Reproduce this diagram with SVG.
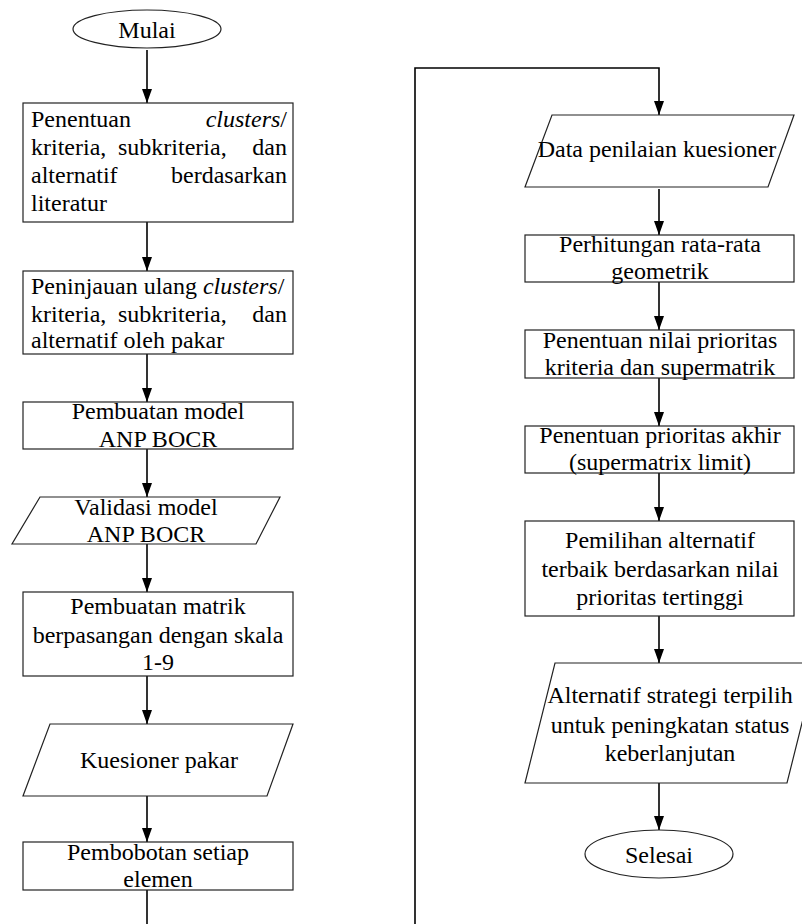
<svg xmlns="http://www.w3.org/2000/svg" width="802" height="924" viewBox="0 0 802 924">
<style>
.shape{fill:#fff;stroke:#222;stroke-width:1.2}
.c{text-anchor:middle}
.e{text-anchor:end}
.t{font-family:'Liberation Serif';font-size:24px;fill:#000}
.con{fill:none;stroke:#000;stroke-width:1.6}
</style>
<defs>
<marker id="ah" viewBox="0 0 10 14" markerWidth="10" markerHeight="14" refX="5" refY="14" orient="0" markerUnits="userSpaceOnUse">
<path d="M0,0 L10,0 L5,14 z" fill="#000"/>
</marker>
</defs>
<rect width="802" height="924" fill="#fff"/>
<g id="connectors">
<line class="con" x1="147" y1="50" x2="147" y2="103" marker-end="url(#ah)"/>
<line class="con" x1="147" y1="222" x2="147" y2="271" marker-end="url(#ah)"/>
<line class="con" x1="147" y1="354" x2="147" y2="402" marker-end="url(#ah)"/>
<line class="con" x1="147" y1="449" x2="147" y2="497" marker-end="url(#ah)"/>
<line class="con" x1="147" y1="544" x2="147" y2="592" marker-end="url(#ah)"/>
<line class="con" x1="147" y1="676" x2="147" y2="724" marker-end="url(#ah)"/>
<line class="con" x1="147" y1="796" x2="147" y2="842" marker-end="url(#ah)"/>
<line class="con" x1="147" y1="890" x2="147" y2="926"/>
<path class="con" d="M415,926 V68 H659 V115" marker-end="url(#ah)"/>
<line class="con" x1="659" y1="189" x2="659" y2="235" marker-end="url(#ah)"/>
<line class="con" x1="659" y1="282" x2="659" y2="330" marker-end="url(#ah)"/>
<line class="con" x1="659" y1="378" x2="659" y2="426" marker-end="url(#ah)"/>
<line class="con" x1="659" y1="473" x2="659" y2="521" marker-end="url(#ah)"/>
<line class="con" x1="659" y1="616" x2="659" y2="663" marker-end="url(#ah)"/>
<line class="con" x1="659" y1="783" x2="659" y2="830" marker-end="url(#ah)"/>
</g>
<g id="mulai">
<ellipse class="shape" cx="147" cy="29" rx="74" ry="19"/>
<text class="t c" font-family="Liberation Serif" font-size="24" x="147" y="38">Mulai</text>
</g>
<g id="penentuan-clusters">
<rect class="shape" x="23" y="103" width="270" height="119"/>
<text class="t" font-family="Liberation Serif" font-size="24" x="31" y="127">Penentuan</text>
<text class="t e" font-family="Liberation Serif" font-size="24" x="287" y="127"><tspan font-style="italic">clusters</tspan>/</text>
<text class="t" font-family="Liberation Serif" font-size="24" x="31" y="155">kriteria,</text>
<text class="t" font-family="Liberation Serif" font-size="24" x="118" y="155">subkriteria,</text>
<text class="t e" font-family="Liberation Serif" font-size="24" x="287" y="155">dan</text>
<text class="t" font-family="Liberation Serif" font-size="24" x="31" y="183">alternatif</text>
<text class="t e" font-family="Liberation Serif" font-size="24" x="287" y="183">berdasarkan</text>
<text class="t" font-family="Liberation Serif" font-size="24" x="31" y="211">literatur</text>
</g>
<g id="peninjauan">
<rect class="shape" x="23" y="271" width="270" height="83"/>
<text class="t" font-family="Liberation Serif" font-size="24" x="31" y="294">Peninjauan ulang <tspan font-style="italic">clusters</tspan>/</text>
<text class="t" font-family="Liberation Serif" font-size="24" x="31" y="322">kriteria,</text>
<text class="t" font-family="Liberation Serif" font-size="24" x="118" y="322">subkriteria,</text>
<text class="t e" font-family="Liberation Serif" font-size="24" x="287" y="322">dan</text>
<text class="t" font-family="Liberation Serif" font-size="24" x="31" y="348">alternatif oleh pakar</text>
</g>
<g id="pembuatan-model">
<rect class="shape" x="23" y="402" width="270" height="47"/>
<text class="t c" font-family="Liberation Serif" font-size="24" x="158" y="419">Pembuatan model</text>
<text class="t c" font-family="Liberation Serif" font-size="24" x="158" y="447">ANP BOCR</text>
</g>
<g id="validasi">
<polygon class="shape" points="40,497 280,497 256,544 12,544"/>
<text class="t c" font-family="Liberation Serif" font-size="24" x="146" y="515">Validasi model</text>
<text class="t c" font-family="Liberation Serif" font-size="24" x="146" y="542">ANP BOCR</text>
</g>
<g id="pembuatan-matrik">
<rect class="shape" x="23" y="592" width="270" height="84"/>
<text class="t c" font-family="Liberation Serif" font-size="24" x="158" y="614">Pembuatan matrik</text>
<text class="t c" font-family="Liberation Serif" font-size="24" x="158" y="643">berpasangan dengan skala</text>
<text class="t c" font-family="Liberation Serif" font-size="24" x="158" y="670">1-9</text>
</g>
<g id="kuesioner-pakar">
<polygon class="shape" points="50,724 293,724 267,796 23,796"/>
<text class="t c" font-family="Liberation Serif" font-size="24" x="159" y="768">Kuesioner pakar</text>
</g>
<g id="pembobotan">
<rect class="shape" x="23" y="842" width="270" height="48"/>
<text class="t c" font-family="Liberation Serif" font-size="24" x="158" y="860">Pembobotan setiap</text>
<text class="t c" font-family="Liberation Serif" font-size="24" x="158" y="887">elemen</text>
</g>
<g id="data-penilaian">
<polygon class="shape" points="552,115 794,115 768,187 525,187"/>
<text class="t c" font-family="Liberation Serif" font-size="24" x="657" y="157">Data penilaian kuesioner</text>
</g>
<g id="rata-rata">
<rect class="shape" x="525" y="235" width="269" height="47"/>
<text class="t c" font-family="Liberation Serif" font-size="24" x="660" y="252">Perhitungan rata-rata</text>
<text class="t c" font-family="Liberation Serif" font-size="24" x="660" y="279">geometrik</text>
</g>
<g id="nilai-prioritas">
<rect class="shape" x="525" y="330" width="269" height="48"/>
<text class="t c" font-family="Liberation Serif" font-size="24" x="660" y="348">Penentuan nilai prioritas</text>
<text class="t c" font-family="Liberation Serif" font-size="24" x="660" y="375">kriteria dan supermatrik</text>
</g>
<g id="prioritas-akhir">
<rect class="shape" x="525" y="426" width="269" height="47"/>
<text class="t c" font-family="Liberation Serif" font-size="24" x="660" y="443">Penentuan prioritas akhir</text>
<text class="t c" font-family="Liberation Serif" font-size="24" x="660" y="470">(supermatrix limit)</text>
</g>
<g id="pemilihan">
<rect class="shape" x="525" y="521" width="269" height="95"/>
<text class="t c" font-family="Liberation Serif" font-size="24" x="660" y="548">Pemilihan alternatif</text>
<text class="t c" font-family="Liberation Serif" font-size="24" x="660" y="577">terbaik berdasarkan nilai</text>
<text class="t c" font-family="Liberation Serif" font-size="24" x="660" y="605">prioritas tertinggi</text>
</g>
<g id="alternatif-terpilih">
<polygon class="shape" points="555,663 817,663 787,783 525,783"/>
<text class="t c" font-family="Liberation Serif" font-size="24" x="670" y="703">Alternatif strategi terpilih</text>
<text class="t c" font-family="Liberation Serif" font-size="24" x="670" y="733">untuk peningkatan status</text>
<text class="t c" font-family="Liberation Serif" font-size="24" x="670" y="761">keberlanjutan</text>
</g>
<g id="selesai">
<ellipse class="shape" cx="659" cy="854" rx="74" ry="24"/>
<text class="t c" font-family="Liberation Serif" font-size="24" x="659" y="863">Selesai</text>
</g>
</svg>
